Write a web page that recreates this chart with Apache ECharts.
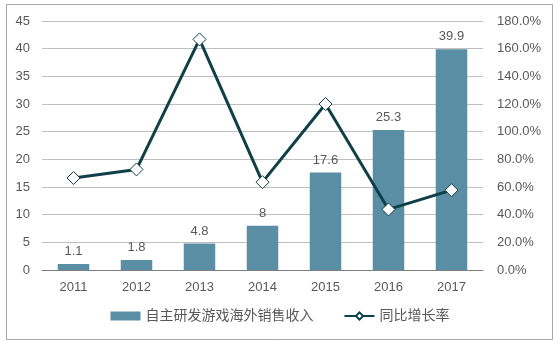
<!DOCTYPE html>
<html>
<head>
<meta charset="utf-8">
<script src="https://cdn.jsdelivr.net/npm/echarts@6/dist/echarts.min.js"></script>
<style>
html,body{margin:0;padding:0;background:#fff;}
#chart{width:560px;height:346px;}
</style>
</head>
<body>
<div id="chart"></div>
<script>
// Overseas sales revenue of self-developed games and year-on-year growth
const years = ['2011', '2012', '2013', '2014', '2015', '2016', '2017'];
const revenue = [1.1, 1.8, 4.8, 8, 17.6, 25.3, 39.9];
const growth = [66.5, 72.7, 166.7, 63.5, 120.0, 43.8, 57.7];
const leftTicks = [0, 45, 5];
const rightTicks = [0, 180, 20];

const txt = '#595959';
const font = "'Liberation Sans', Arial, 'Noto Sans CJK SC', sans-serif";

const chart = echarts.init(document.getElementById('chart'), null, {renderer: 'canvas'});
chart.setOption({
  animation: false,
  textStyle: {fontFamily: font},
  graphic: [{
    type: 'rect',
    shape: {x: 6.5, y: 4.5, width: 546, height: 335},
    style: {fill: 'none', stroke: '#a6a6a6', lineWidth: 1},
    silent: true
  }],
  grid: {left: 42, right: 77, top: 21, bottom: 76},
  legend: {
    bottom: 18,
    left: 'center',
    itemGap: 30,
    itemWidth: 30,
    itemHeight: 9,
    textStyle: {color: txt, fontSize: 14, fontFamily: font},
    data: [
      {name: '自主研发游戏海外销售收入', icon: 'rect'},
      {name: '同比增长率'}
    ]
  },
  xAxis: {
    type: 'category',
    data: years,
    axisLine: {lineStyle: {color: '#7f7f7f', width: 1}},
    axisTick: {show: false},
    axisLabel: {color: txt, fontSize: 13, margin: 11}
  },
  yAxis: [{
    type: 'value',
    min: leftTicks[0], max: leftTicks[1], interval: leftTicks[2],
    axisLine: {show: false},
    axisTick: {show: false},
    axisLabel: {color: txt, fontSize: 13, margin: 12},
    splitLine: {lineStyle: {color: '#bfbfbf', width: 1}}
  }, {
    type: 'value',
    min: rightTicks[0], max: rightTicks[1], interval: rightTicks[2],
    axisLine: {show: false},
    axisTick: {show: false},
    splitLine: {show: false},
    axisLabel: {color: txt, fontSize: 13, margin: 14, formatter: v => v.toFixed(1) + '%'}
  }],
  series: [{
    name: '自主研发游戏海外销售收入',
    type: 'bar',
    data: revenue,
    barWidth: '50%',
    itemStyle: {color: '#5a8ea4'},
    label: {show: true, position: 'top', color: txt, fontSize: 13, distance: 6}
  }, {
    name: '同比增长率',
    type: 'line',
    yAxisIndex: 1,
    data: growth,
    symbol: 'diamond',
    symbolSize: 13,
    lineStyle: {color: '#0f3f48', width: 3},
    itemStyle: {color: '#ffffff', borderColor: '#0f3f48', borderWidth: 1},
    z: 5
  }]
});
</script>
</body>
</html>
